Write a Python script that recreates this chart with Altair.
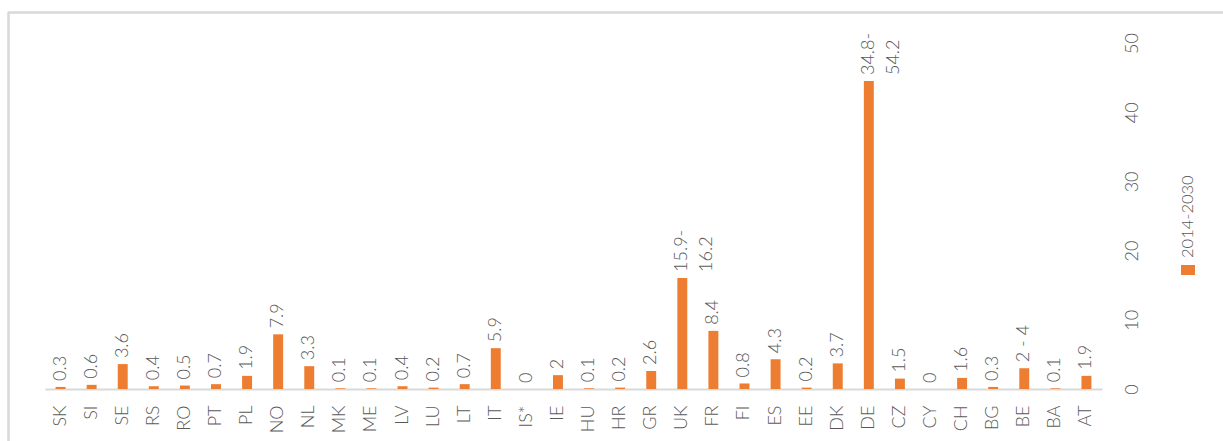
import altair as alt
import pandas as pd

countries = ["SK", "SI", "SE", "RS", "RO", "PT", "PL", "NO", "NL", "MK", "ME", "LV",
             "LU", "LT", "IT", "IS*", "IE", "HU", "HR", "GR", "UK", "FR", "FI", "ES",
             "EE", "DK", "DE", "CZ", "CY", "CH", "BG", "BE", "BA", "AT"]
values = [0.3, 0.6, 3.6, 0.4, 0.5, 0.7, 1.9, 7.9, 3.3, 0.1, 0.1, 0.4,
          0.2, 0.7, 5.9, 0, 2, 0.1, 0.2, 2.6, 16.05, 8.4, 0.8, 4.3,
          0.2, 3.7, 44.5, 1.5, 0, 1.6, 0.3, 3, 0.1, 1.9]
labels = ["0.3", "0.6", "3.6", "0.4", "0.5", "0.7", "1.9", "7.9", "3.3", "0.1", "0.1", "0.4",
          "0.2", "0.7", "5.9", "0", "2", "0.1", "0.2", "2.6", "15.9-\n16.2", "8.4", "0.8", "4.3",
          "0.2", "3.7", "34.8-\n54.2", "1.5", "0", "1.6", "0.3", "2 - 4", "0.1", "1.9"]
series_name = "2014-2030"
y_ticks = [0, 10, 20, 30, 40, 50]

df = pd.DataFrame({"country": countries, "value": values, "label": labels})

FONT = "Lato"
WEIGHT = 300
GRAY = "#595959"
ORANGE = "#ED7D31"
W, H = 1057, 346

x_enc = alt.X("country:N", sort=None,
              scale=alt.Scale(paddingInner=0.68, paddingOuter=0.34),
              axis=alt.Axis(title=None, labelAngle=270, labelAlign="right",
                            labelBaseline="middle", labelPadding=16, ticks=False,
                            tickSize=0, domainColor="#d9d9d9", domainWidth=2,
                            labelFont=FONT, labelFontSize=18, labelFontWeight=WEIGHT,
                            labelColor=GRAY))
y_enc = alt.Y("value:Q", scale=alt.Scale(domain=[0, 50], nice=False),
              axis=alt.Axis(title=None, orient="right", values=y_ticks, domain=False,
                            ticks=False, tickSize=0, grid=False, labelAngle=270,
                            labelAlign="center", labelBaseline="middle", labelPadding=30,
                            labelFont=FONT, labelFontSize=18, labelFontWeight=WEIGHT,
                            labelColor=GRAY))

bars = alt.Chart(df).mark_bar(color=ORANGE).encode(x=x_enc, y=y_enc)

text = alt.Chart(df).mark_text(angle=270, align="left", baseline="middle", dx=6,
                               lineBreak="\n", font=FONT, fontSize=18, fontWeight=WEIGHT,
                               color=GRAY, lineHeight=25).encode(
    x=alt.X("country:N", sort=None), y="value:Q", text="label:N")

one = pd.DataFrame({"a": [0]})

legend_sq = alt.Chart(one).mark_rect(color=ORANGE).encode(
    x=alt.value(1136), x2=alt.value(1150), y=alt.value(222), y2=alt.value(232))
legend_txt = alt.Chart(one).mark_text(angle=270, align="left", baseline="middle",
                                      font=FONT, fontSize=16.5, fontWeight=WEIGHT,
                                      color=GRAY, text=series_name).encode(
    x=alt.value(1143), y=alt.value(215))

frame_top = alt.Chart(one).mark_rule(color="#d9d9d9", strokeWidth=2.5).encode(
    x=alt.value(-37), x2=alt.value(1200), y=alt.value(-30.5))
frame_left = alt.Chart(one).mark_rule(color="#d9d9d9", strokeWidth=2.5).encode(
    x=alt.value(-36.5), y=alt.value(-31), y2=alt.value(420))

chart = alt.layer(frame_top, frame_left, bars, text, legend_sq, legend_txt).properties(
    width=W, height=H,
    autosize=alt.AutoSizeParams(type="none"),
    padding={"left": 45, "top": 43, "right": 121, "bottom": 52},
    background="white",
).configure_view(stroke=None)

chart.save("out.html", embed_options={"renderer": "svg", "actions": False})
